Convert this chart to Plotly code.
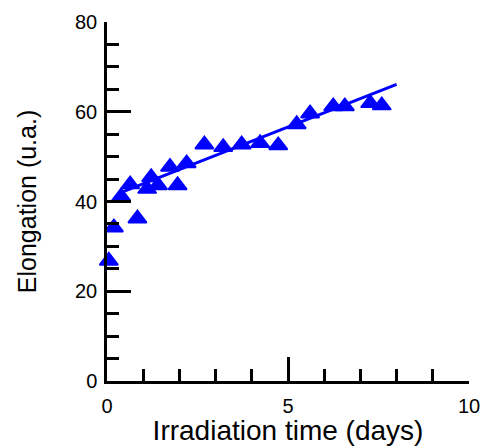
import plotly.graph_objects as go

# Measured data (irradiation time in days, elongation in u.a.)
time_days = [0.05, 0.19, 0.39, 0.64, 0.84, 1.11, 1.22, 1.41, 1.74, 1.95, 2.2,
             2.69, 3.21, 3.72, 4.23, 4.73, 5.24, 5.61, 6.25, 6.57, 7.27, 7.59]
elongation = [26.8, 34.2, 41.1, 43.8, 36.2, 42.8, 45.4, 43.6, 47.7, 43.6, 48.5,
              52.7, 52.1, 52.7, 53.0, 52.5, 57.2, 59.6, 61.2, 61.2, 61.9, 61.4]

# Linear fit line end points
fit_x = [0.36, 8.0]
fit_y = [41.9, 66.1]

x_ticks = [0, 5, 10]
y_ticks = [0, 20, 40, 60, 80]

blue = "#0000FF"
font_family = "Liberation Sans, Arial, sans-serif"

fig = go.Figure()
fig.add_trace(go.Scatter(
    x=time_days, y=elongation, mode="markers",
    marker=dict(symbol="triangle-up", size=16, color=blue,
                line=dict(color=blue, width=1.8)),
    cliponaxis=False, showlegend=False,
))
fig.add_trace(go.Scatter(
    x=fit_x, y=fit_y, mode="lines",
    line=dict(color=blue, width=3),
    cliponaxis=False, showlegend=False,
))

axis_common = dict(
    showgrid=False, zeroline=False, showline=True, linecolor="black",
    linewidth=2.5, ticks="inside", ticklen=24, tickwidth=2.5,
    tickcolor="black", tickfont=dict(family=font_family, size=20, color="black"),
    automargin=False,
)

# The page body has an 8px margin, so the figure is sized/offset to compensate.
fig.update_layout(
    width=485, height=438,
    margin=dict(l=99, r=24, t=14, b=65),
    plot_bgcolor="white", paper_bgcolor="white",
    font=dict(family=font_family, color="black"),
    xaxis=dict(
        range=[0, 10], tickvals=x_ticks, ticktext=[str(v) for v in x_ticks],
        minor=dict(dtick=1, ticks="inside", ticklen=12, tickwidth=2.5, tickcolor="black"),
        title=dict(text="Irradiation time (days)", font=dict(size=28), standoff=2),
        ticklabelstandoff=5,
        **axis_common,
    ),
    yaxis=dict(
        range=[0, 80], tickvals=y_ticks, ticktext=[str(v) for v in y_ticks],
        minor=dict(dtick=5, ticks="inside", ticklen=12, tickwidth=2.5, tickcolor="black"),
        title=dict(text="Elongation (u.a.)", font=dict(size=25), standoff=32),
        ticklabelstandoff=3,
        **axis_common,
    ),
)

fig.write_html("out.html")
